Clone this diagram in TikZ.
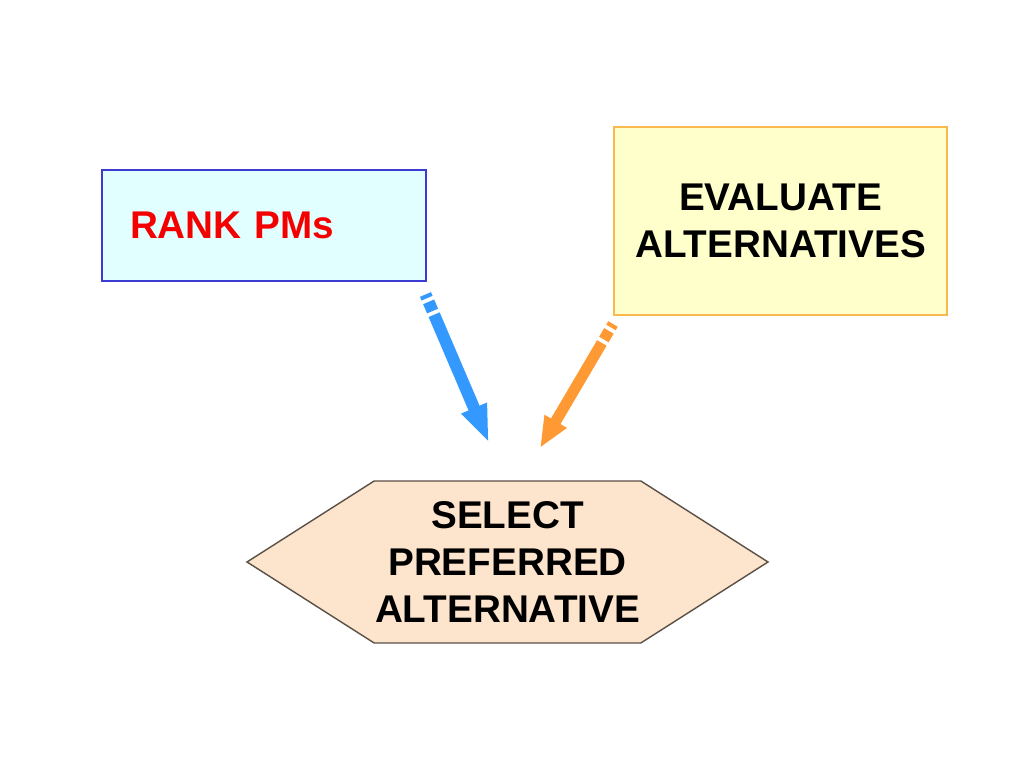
\documentclass[tikz,border=0pt]{standalone}
\usepackage{fontspec}
\setmainfont{Liberation Sans}
\usetikzlibrary{arrows.meta}
\usetikzlibrary{positioning}
\usetikzlibrary{shapes.symbols}
\definecolor{rankfill}{RGB}{225,255,255}
\definecolor{rankline}{RGB}{60,60,210}
\definecolor{evalfill}{RGB}{255,255,204}
\definecolor{evalline}{RGB}{250,185,80}
\definecolor{selfill}{RGB}{253,228,204}
\definecolor{selline}{RGB}{90,80,70}
\definecolor{rankred}{RGB}{245,0,0}
\definecolor{feedblue}{RGB}{51,153,255}
\definecolor{feedorange}{RGB}{255,153,51}
\begin{document}
\begin{tikzpicture}
        [every node/.style={font=\fontsize{11}{13.3}\selectfont\bfseries},
        process/.style={rectangle,line width=0.3pt,inner sep=0pt},
        decision/.style={signal,signal to=east and west,signal pointer angle=65,
        draw=selline,fill=selfill,line width=0.4pt,align=center,inner sep=0pt},
        into/.style={line width=0.12cm,line cap=butt,
        dash pattern=on 0.04cm off 0.04cm on 0.1cm off 0.04cm on 5cm,
        -{Triangle[width=0.25cm,length=0.38cm]}}]

\useasboundingbox (0,0) rectangle (10.24,7.68);

% Boxes %
\node[process,draw=rankline,fill=rankfill,minimum width=3.24cm,minimum height=1.11cm,
        text width=2.68cm,inner xsep=0.28cm,align=left,text=rankred] (rank) at (2.64,5.425) {RANK PMs};
\node[process,draw=evalline,fill=evalfill,minimum width=3.33cm,minimum height=1.88cm,
        align=center] (eval) at (7.805,5.47) {EVALUATE\\ALTERNATIVES};

% Select %
\node[decision,minimum width=5.21cm,minimum height=1.62cm] (select) at (5.075,2.06)
        {SELECT\\PREFERRED\\ALTERNATIVE};

% Pfeile %
\coordinate (rtail) at (4.255,4.735);
\coordinate (rhead) at (4.89,3.25);
\coordinate (etail) at (6.13,4.44);
\coordinate (ehead) at (5.40,3.20);
\draw[into,feedblue] (rtail) -- (rhead);
\draw[into,feedorange,line width=0.11cm,-{Triangle[width=0.235cm,length=0.31cm]}] (etail) -- (ehead);
\end{tikzpicture}
\end{document}
